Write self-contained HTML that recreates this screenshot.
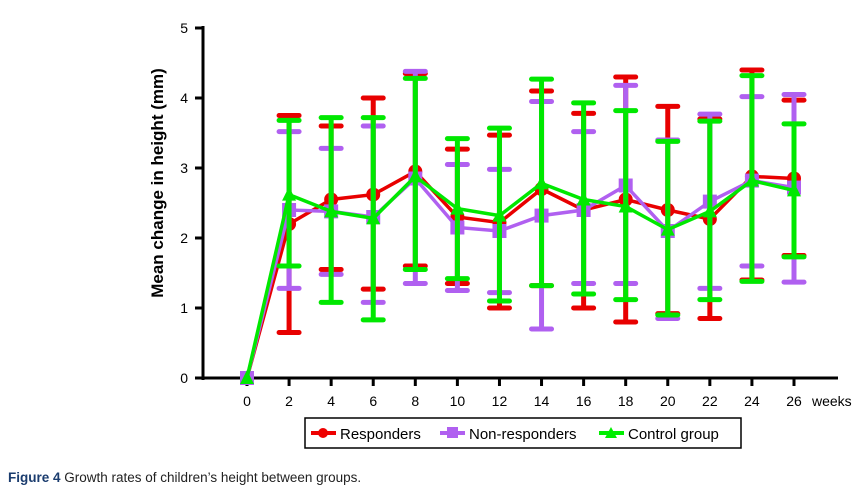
<!DOCTYPE html>
<html><head><meta charset="utf-8"><style>
body{margin:0;background:#fff;width:862px;height:491px;overflow:hidden;font-family:"Liberation Sans",sans-serif}
</style></head><body>
<svg id="c" width="862" height="491" style="position:absolute;left:0;top:0">
<text transform="translate(163,183) rotate(-90)" text-anchor="middle" font-size="17" font-weight="bold">Mean change in height (mm)</text>
<g>
<rect x="305" y="418" width="436" height="30" fill="#fff" stroke="#000" stroke-width="1.5"/>
<g><line x1="311" y1="433" x2="336" y2="433" stroke="#e00" stroke-width="4"/><circle cx="323" cy="433" r="5" fill="#e00"/><text x="340" y="439" font-size="15">Responders</text></g>
<g><line x1="440" y1="433" x2="465" y2="433" stroke="#b060f0" stroke-width="4"/><rect x="447" y="427" width="11" height="11" fill="#b060f0"/><text x="469" y="439" font-size="15">Non-responders</text></g>
<g><line x1="599" y1="433" x2="624" y2="433" stroke="#0e0" stroke-width="4"/><polygon points="611,427 617,438 605,438" fill="#0e0"/><text x="628" y="439" font-size="15">Control group</text></g>
</g>
<text x="8" y="482" font-size="13.5" fill="#222"><tspan font-weight="bold" fill="#1a3c6e">Figure 4</tspan> Growth rates of children’s height between groups.</text>
</svg>
<script>
const weeks=[0,2,4,6,8,10,12,14,16,18,20,22,24,26];
const yTicks=[0,1,2,3,4,5];
const respMean=[0,2.2,2.55,2.62,2.95,2.3,2.22,2.7,2.4,2.55,2.4,2.27,2.88,2.85];
const respLow=[0,0.65,1.55,1.27,1.6,1.35,1.0,1.32,1.0,0.8,0.92,0.85,1.4,1.75];
const respHigh=[0,3.75,3.6,4.0,4.35,3.27,3.47,4.1,3.78,4.3,3.88,3.7,4.4,3.97];
const nonMean=[0,2.4,2.38,2.3,2.85,2.15,2.1,2.32,2.4,2.75,2.1,2.52,2.82,2.72];
const nonLow=[0,1.28,1.48,1.08,1.35,1.25,1.22,0.7,1.35,1.35,0.85,1.28,1.6,1.37];
const nonHigh=[0,3.52,3.28,3.6,4.38,3.05,2.98,3.95,3.52,4.18,3.4,3.77,4.02,4.05];
const ctlMean=[0,2.62,2.38,2.28,2.88,2.42,2.32,2.78,2.55,2.45,2.12,2.38,2.82,2.68];
const ctlLow=[0,1.6,1.08,0.83,1.55,1.42,1.1,1.32,1.2,1.12,0.9,1.12,1.38,1.73];
const ctlHigh=[0,3.68,3.72,3.72,4.28,3.42,3.57,4.27,3.93,3.82,3.38,3.67,4.32,3.63];
const svg=document.getElementById('c');
const NS='http://www.w3.org/2000/svg';
const X=w=>247+(w/26)*547;
const Y=v=>378-v*70;
function mk(t,a){const e=document.createElementNS(NS,t);for(const k in a)e.setAttribute(k,a[k]);svg.appendChild(e);return e;}
let ax=mk('line',{x1:203,y1:26,x2:203,y2:380,stroke:'#000','stroke-width':3});


ax=mk('line',{x1:201,y1:378,x2:838,y2:378,stroke:'#000','stroke-width':3});


yTicks.forEach(v=>{
 const t=mk('line',{x1:195,y1:Y(v),x2:203,y2:Y(v),stroke:'#000','stroke-width':3});
 
 
 const l=mk('text',{x:188,y:Y(v)+5,'text-anchor':'end','font-size':14});
 
 
 l.textContent=v;
});
weeks.forEach(w=>{
 const t=mk('line',{x1:X(w),y1:378,x2:X(w),y2:386,stroke:'#000','stroke-width':3});
 
 
 const l=mk('text',{x:X(w),y:406,'text-anchor':'middle','font-size':14});
 
 
 l.textContent=w;
});
const wl=mk('text',{x:812,y:406,'font-size':14});


wl.textContent='weeks';
function series(name,color,mean,low,high,marker){
 weeks.forEach((w,i)=>{
  if(i===0)return;
  const x=X(w);
  const b=mk('line',{x1:x,y1:Y(low[i]),x2:x,y2:Y(high[i]),stroke:color,'stroke-width':5});
  
  
  [low[i],high[i]].forEach(v=>{
   const c=mk('line',{x1:x-10,y1:Y(v),x2:x+10,y2:Y(v),stroke:color,'stroke-width':5,'stroke-linecap':'round'});
   
   
  });
 });
 const p=mk('polyline',{points:weeks.map((w,i)=>X(w)+','+Y(mean[i])).join(' '),fill:'none',stroke:color,'stroke-width':3.5});
 
 
 weeks.forEach((w,i)=>{
  const x=X(w),y=Y(mean[i]);let m;
  if(marker==='c')m=mk('circle',{cx:x,cy:y,r:7,fill:color});
  else if(marker==='s')m=mk('rect',{x:x-7,y:y-7,width:14,height:14,fill:color});
  else m=mk('polygon',{points:`${x},${y-8} ${x+7},${y+6} ${x-7},${y+6}`,fill:color});
  
  
 });
}
series('responders','#e80000',respMean,respLow,respHigh,'c');
series('non-responders','#b060f0',nonMean,nonLow,nonHigh,'s');
series('control','#00e800',ctlMean,ctlLow,ctlHigh,'t');
</script>
</body></html>
